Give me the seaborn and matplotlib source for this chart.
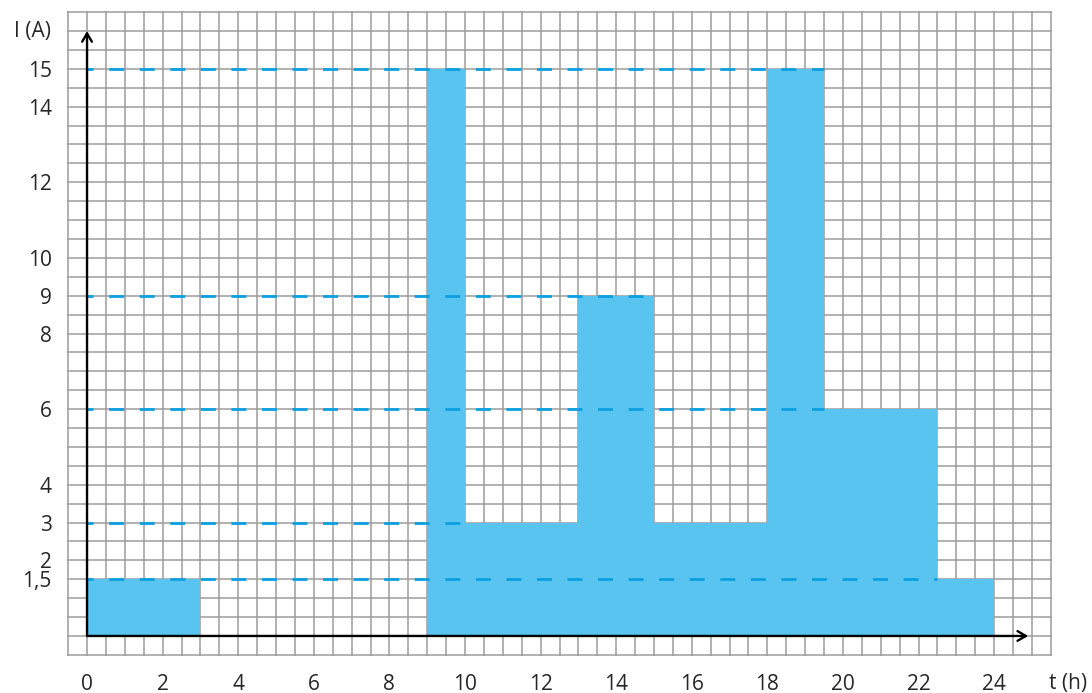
import numpy as np
import matplotlib
matplotlib.use("Agg")
import matplotlib.pyplot as plt
import seaborn as sns

# Step profile of current over one day
edges = [0, 3, 9, 10, 13, 15, 18, 19.5, 22.5, 24]
currents = [1.5, 0, 15, 3, 9, 3, 15, 6, 1.5]

# Dashed guide levels and where each stops
guide_levels = [15, 9, 6, 3, 1.5]
guide_ends = [19.5, 15, 19.5, 10, 22.5]

x_ticks = list(range(0, 25, 2))
y_ticks = [1.5, 2, 3, 4, 6, 8, 9, 10, 12, 14, 15]
y_labels = ["1,5", "2", "3", "4", "6", "8", "9", "10", "12", "14", "15"]

fill_color = "#5AC4F0"
dash_color = "#0BA0E2"
grid_color = "#9C9C9C"

sns.set_style("white")
plt.rcParams["font.family"] = ["Open Sans", "DejaVu Sans"]

fig = plt.figure(figsize=(10.92, 6.93), dpi=100)
ax = fig.add_axes([67 / 1092, 37 / 693, 985 / 1092, 645 / 693])
ax.set_xlim(-0.53, 25.53)
ax.set_ylim(-0.53, 16.53)

# graph paper grid (keep minor lines where major ticks sit)
ax.xaxis.remove_overlapping_locs = False
ax.yaxis.remove_overlapping_locs = False
ax.set_xticks(np.arange(-0.5, 25.51, 0.5), minor=True)
ax.set_yticks(np.arange(-0.5, 16.51, 0.5), minor=True)
ax.grid(which="minor", color=grid_color, linewidth=1.1, zorder=0)
ax.grid(which="major", visible=False)
ax.set_axisbelow(True)
for s in ax.spines.values():
    s.set_visible(False)

# step bars
sns.histplot(x=edges[:-1], weights=currents, bins=edges, element="step",
             fill=True, color=fill_color, alpha=1, linewidth=0, ax=ax, zorder=2)
ax.set_xlabel("")
ax.set_ylabel("")

# dashed guides
lw = 2.0
for lvl, end in zip(guide_levels, guide_ends):
    ax.plot([0, end], [lvl, lvl], color=dash_color, linewidth=lw,
            linestyle=(3.2, (5.4, 5.6)), zorder=3)

# axes with arrows
arrow = dict(arrowstyle="->,head_length=0.6,head_width=0.35",
             color="black", lw=1.7, shrinkA=0, shrinkB=0)
ax.annotate("", xy=(0, 16.0), xytext=(0, 0), arrowprops=arrow, zorder=4)
ax.annotate("", xy=(24.9, 0), xytext=(0, 0), arrowprops=arrow, zorder=4)

# tick labels
ax.set_xticks(x_ticks)
ax.set_xticklabels([str(t) for t in x_ticks], fontsize=15)
ax.set_yticks(y_ticks)
ax.set_yticklabels(y_labels, fontsize=15)
ax.tick_params(axis="both", which="both", length=0)
ax.tick_params(axis="x", pad=13)
ax.tick_params(axis="y", pad=11)

ax.text(-0.95, 16.0, "I (A)", ha="right", va="center", fontsize=15, clip_on=False)
ax.text(25.95, -1.25, "t (h)", ha="center", va="center", fontsize=15, clip_on=False)

fig.savefig("out.png", dpi=100)
